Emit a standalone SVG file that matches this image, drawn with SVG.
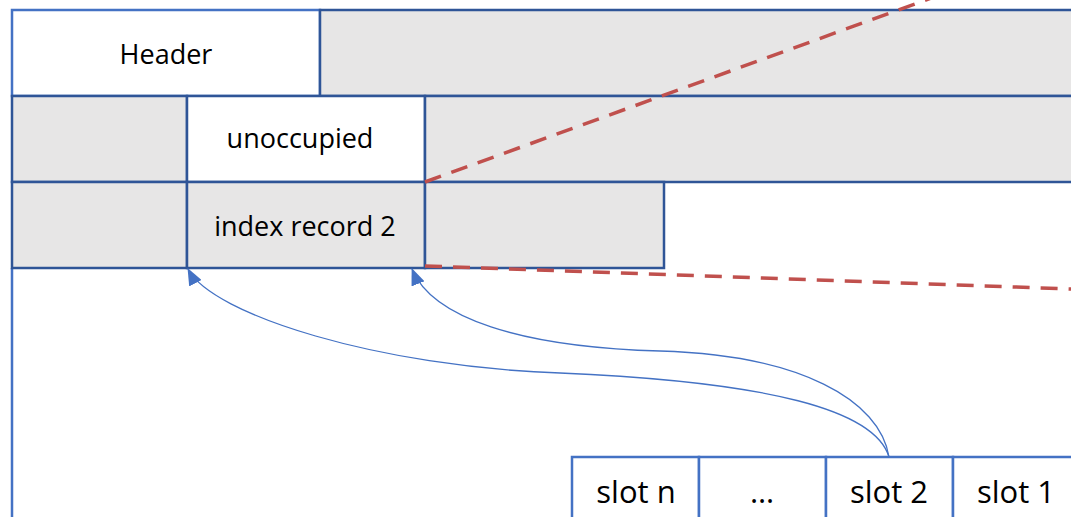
<svg xmlns="http://www.w3.org/2000/svg" width="1071" height="517" viewBox="0 0 1071 517">
  <style>
    .cell { stroke: #2F5597; stroke-width: 2.5; }
    .gray { fill: #E7E6E6; }
    .white { fill: #FFFFFF; }
    .outline { fill: #FFFFFF; stroke: #4472C4; stroke-width: 2.5; }
    .slot { fill: #FFFFFF; stroke: #4472C4; stroke-width: 2.5; }
    .label { font-family: "Open Sans", "Liberation Sans", sans-serif; font-size: 27px; fill: #000000; text-anchor: middle; }
    .slotlabel { font-family: "Open Sans", "Liberation Sans", sans-serif; font-size: 31px; fill: #000000; text-anchor: middle; }
    .split { fill: none; stroke: #C0504D; stroke-width: 3.5; stroke-dasharray: 17 11; }
    .ptr { fill: none; stroke: #4472C4; stroke-width: 1.3; marker-end: url(#tip); }
  </style>
  <defs>
    <marker id="tip" viewBox="0 0 17 14" refX="16" refY="7" markerWidth="17" markerHeight="14" markerUnits="userSpaceOnUse" orient="auto">
      <path d="M0,0 L17,7 L0,14 z" fill="#4472C4"/>
    </marker>
  </defs>
  <rect width="1071" height="517" fill="#FFFFFF"/>

  <!-- page edge running down the left side -->
  <line id="page-edge" x1="12" y1="268" x2="12" y2="530" stroke="#4472C4" stroke-width="2.5"/>

  <!-- row 1 -->
  <g id="header">
    <rect class="outline" x="12" y="10" width="308" height="86"/>
    <text class="label" x="166" y="64">Header</text>
  </g>
  <g id="row1-free">
    <rect class="cell gray" x="320" y="10" width="770" height="86"/>
  </g>

  <!-- row 2 -->
  <g id="row2-left">
    <rect class="cell gray" x="12" y="96" width="175" height="86"/>
  </g>
  <g id="unoccupied">
    <rect class="cell white" x="187" y="96" width="238" height="86"/>
    <text class="label" x="300" y="148">unoccupied</text>
  </g>
  <g id="row2-right">
    <rect class="cell gray" x="425" y="96" width="665" height="86"/>
  </g>

  <!-- row 3 -->
  <g id="row3-left">
    <rect class="cell gray" x="12" y="182" width="175" height="86"/>
  </g>
  <g id="index-record-2">
    <rect class="cell gray" x="187" y="182" width="238" height="86"/>
    <text class="label" x="305" y="236">index record 2</text>
  </g>
  <g id="row3-right">
    <rect class="cell gray" x="425" y="182" width="239" height="86"/>
  </g>

  <!-- slot array -->
  <g id="slot-n">
    <rect class="slot" x="572" y="457" width="127" height="80"/>
    <text class="slotlabel" x="636" y="503">slot n</text>
  </g>
  <g id="slot-ellipsis">
    <rect class="slot" x="699" y="457" width="127" height="80"/>
    <text class="slotlabel" x="762" y="503">…</text>
  </g>
  <g id="slot-2">
    <rect class="slot" x="826" y="457" width="127" height="80"/>
    <text class="slotlabel" x="889" y="503">slot 2</text>
  </g>
  <g id="slot-1">
    <rect class="slot" x="953" y="457" width="130" height="80"/>
    <text class="slotlabel" x="1016" y="503">slot 1</text>
  </g>

  <g id="connectors">
    <line class="split" x1="425" y1="182" x2="945" y2="-7"/>
    <line class="split" x1="425" y1="266" x2="1085" y2="289.5"/>
    <path class="ptr" d="M889,457 C875,410 770,382 560,373 C380,367 212,315 188,269"/>
    <path class="ptr" d="M889,457 C880,400 800,355 660,351 C520,347 432,318 412,269"/>
  </g>
</svg>
